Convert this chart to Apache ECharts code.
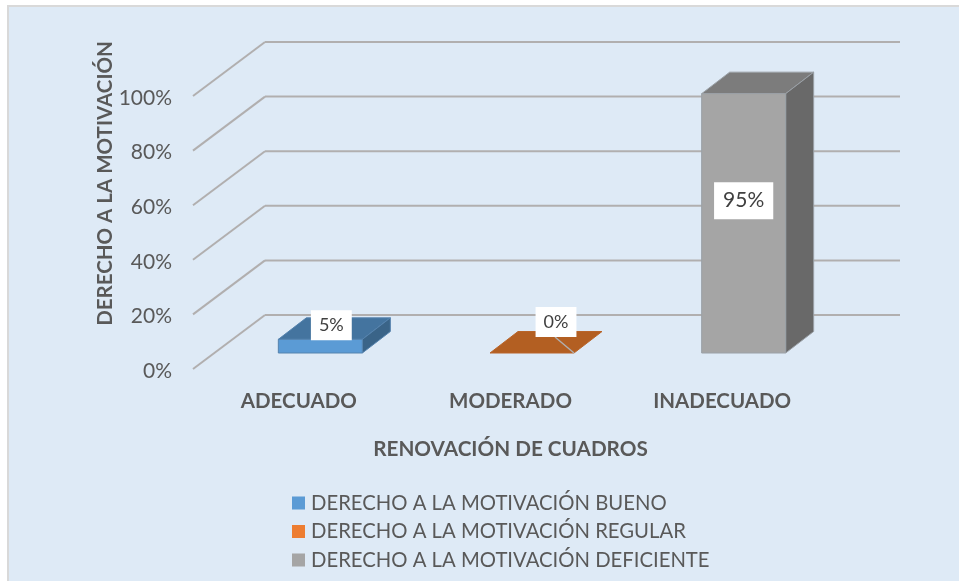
<!DOCTYPE html>
<html>
<head>
<meta charset="utf-8">
<style>html,body{margin:0;padding:0;background:#fff}#c{width:959px;height:581px}</style>
<script src="https://cdn.jsdelivr.net/npm/echarts@6/dist/echarts.min.js"></script>
</head>
<body>
<div id="c"></div>
<script>
const categories = ['ADECUADO', 'MODERADO', 'INADECUADO'];
const ticks = [0, 20, 40, 60, 80, 100];
const bueno = [5, null, null];
const regular = [null, 0, null];
const deficiente = [null, null, 95];
const seriesNames = ['DERECHO A LA MOTIVACIÓN BUENO', 'DERECHO A LA MOTIVACIÓN REGULAR', 'DERECHO A LA MOTIVACIÓN DEFICIENTE'];
const xTitle = 'RENOVACIÓN DE CUADROS';
const yTitle = 'DERECHO A LA MOTIVACIÓN';

const FONT = 'Lato';
const WALL = { dx: 72, dy: -54 };
const BAR = { inset: 21.5, lift: -16, w: 84, dx: 28, dy: -21.5 };
const GRID_COLOR = '#B1AFAF';

function wallItem(params, api) {
  const cs = params.coordSys;
  const y = api.coord([0, api.value(1)])[1];
  const style = { stroke: GRID_COLOR, lineWidth: 2, fill: null };
  const x0 = cs.x, x1 = cs.x + WALL.dx, x2 = cs.x + cs.width + WALL.dx, yb = y + WALL.dy;
  return { type: 'group', children: [
    { type: 'line', shape: { x1: x0, y1: y, x2: x1, y2: yb }, style },
    { type: 'line', shape: { x1: x1, y1: yb, x2: x2, y2: yb }, style }
  ]};
}

function barRender(look) {
  return function (params, api) {
    const cat = api.value(0), val = api.value(1);
    const base = api.coord([cat, 0]), top = api.coord([cat, val]);
    const cx = base[0] + BAR.inset;
    const l = cx - BAR.w / 2, r = cx + BAR.w / 2;
    const yb = base[1] + BAR.lift, yt = top[1] + BAR.lift;
    const dx = BAR.dx, dy = BAR.dy;
    const edge = { stroke: look.edge, lineWidth: 1 };
    const poly = (points, fill) => ({ type: 'polygon', shape: { points }, style: Object.assign({ fill }, edge) });
    const children = [];
    children.push(poly([[l, yt], [l + dx, yt + dy], [r + dx, yt + dy], [r, yt]], look.top));
    if (val > 0) {
      children.push(poly([[r, yt], [r + dx, yt + dy], [r + dx, yb + dy], [r, yb]], look.side));
      children.push(poly([[l, yt], [r, yt], [r, yb], [l, yb]], look.front));
    } else {
      children.push({ type: 'line', shape: { x1: r, y1: yb, x2: r - 19, y2: yb - 16 }, style: { stroke: GRID_COLOR, lineWidth: 1.5 } });
    }
    children.push({ type: 'text', z2: 100, style: {
      text: val + '%', x: cx + look.labelDx, y: yt + look.labelDy,
      align: 'center', verticalAlign: 'middle',
      fill: '#404040', font: look.labelSize + 'px ' + FONT,
      backgroundColor: '#FFFFFF', padding: look.labelPad
    }});
    return { type: 'group', children };
  };
}

const looks = [
  { color: '#5B9BD5', front: '#5B9BD5', top: '#44749F', side: '#3A6488', edge: '#5583AE', labelDx: 11, labelDy: -14, labelSize: 18, labelPad: [6, 8, 6, 8] },
  { color: '#ED7D31', front: '#ED7D31', top: '#B35F22', side: '#9A521E', edge: '#B9652A', labelDx: 24, labelDy: -31, labelSize: 18, labelPad: [6, 8, 6, 8] },
  { color: '#A5A5A5', front: '#A5A5A5', top: '#7C7C7C', side: '#696969', edge: '#9AA0A6', labelDx: 0, labelDy: 107, labelSize: 21, labelPad: [8, 9, 8, 9] }
];
const seriesValues = [bueno, regular, deficiente];

const chart = echarts.init(document.getElementById('c'), null, { renderer: 'canvas' });
chart.setOption({
  animation: false,
  backgroundColor: '#FFFFFF',
  graphic: [{ type: 'rect', z: -10, silent: true, shape: { x: 8, y: 6, width: 970, height: 600 }, style: { fill: '#DEEAF6', stroke: '#D9D9D9', lineWidth: 2 } }],
  grid: { left: 193, right: 131, top: 96, bottom: 212, containLabel: false },
  legend: {
    orient: 'vertical', left: 287, top: 488, itemWidth: 13, itemHeight: 13, itemGap: 8.5,
    icon: 'rect', data: seriesNames, selectedMode: false,
    textStyle: { fontFamily: FONT, fontSize: 20.3, color: '#595959', padding: [0, 0, 0, 1] }
  },
  xAxis: {
    type: 'category', data: categories,
    axisLine: { show: false }, axisTick: { show: false }, splitLine: { show: false },
    axisLabel: { fontFamily: FONT, fontSize: 20.5, fontWeight: 'bold', color: '#595959', margin: 22, interval: 0 },
    name: xTitle, nameLocation: 'middle', nameGap: 70, nameMoveOverlap: false,
    nameTextStyle: { fontFamily: FONT, fontSize: 20.7, fontWeight: 'bold', color: '#595959' }
  },
  yAxis: {
    type: 'value', min: 0, max: 100, interval: 20,
    axisLine: { show: false }, axisTick: { show: false }, splitLine: { show: false },
    axisLabel: {
      fontFamily: FONT, fontSize: 21, color: '#595959', margin: 21, formatter: '{v|{value}%}',
      rich: { v: { fontFamily: FONT, fontSize: 21, color: '#595959', padding: [4, 0, 0, 0] } }
    },
    name: yTitle, nameLocation: 'middle', nameGap: 77, nameMoveOverlap: false,
    nameTextStyle: { fontFamily: FONT, fontSize: 20.5, fontWeight: 'bold', color: '#595959', padding: [0, 0, 0, 98] }
  },
  series: [
    { type: 'custom', name: 'walls', silent: true, z: 1, clip: false, renderItem: wallItem,
      data: ticks.map(t => [0, t]), encode: { x: 0, y: 1 } }
  ].concat(seriesNames.map((name, i) => ({
    type: 'custom', name, z: 3, clip: false,
    itemStyle: { color: looks[i].color },
    renderItem: barRender(looks[i]),
    data: seriesValues[i].map((v, k) => v === null ? null : [k, v]).filter(Boolean),
    encode: { x: 0, y: 1 }
  })))
});
</script>
</body>
</html>
